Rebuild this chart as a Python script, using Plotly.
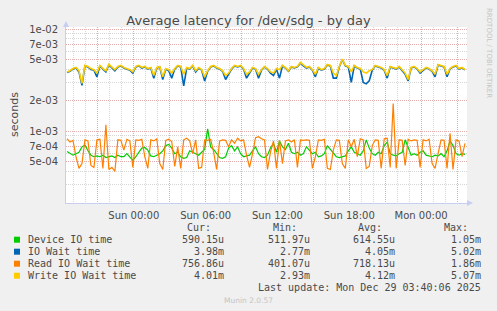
import plotly.graph_objects as go
import pandas as pd
import numpy as np

# ---------------- data (values in microseconds) ----------------
times = pd.date_range("2025-12-27 18:25", periods=134, freq="15min")

device_us = [630, 600, 580, 600, 620, 700, 730, 640, 580, 560,
             570, 560, 580, 550, 560, 570, 550, 580, 560, 560,
             600, 560, 515, 560, 620, 680, 690, 650, 570, 560,
             580, 600, 640, 720, 740, 680, 600, 620, 560, 540,
             550, 640, 620, 600, 580,
             620, 660, 1050, 700, 660, 600, 550, 540, 560, 680,
             720, 640, 700, 600, 560, 570, 580, 640, 700, 600,
             560, 550, 580, 680, 760, 620, 800, 700, 660, 760,
             620, 600, 620, 580, 600, 700, 650, 600, 620, 560,
             570, 600, 720, 660, 620,
             560, 550, 560, 570, 640, 700, 620, 600, 580, 640,
             820, 680, 600, 580, 620, 600, 720, 780, 600, 580,
             570, 600, 620, 820, 700, 580, 600, 580, 620, 640,
             580, 570, 560, 580, 570, 600, 560, 640, 800, 720,
             600, 580, 600, 590]

iowait_us = [3750, 3850, 4050, 4150, 3800, 2800, 4350, 4250, 4000, 3950,
             3400, 4350, 4050, 3800, 4450, 4150, 3900, 4250, 4350, 4150,
             4050, 3950, 3700, 4250, 4350, 4150, 4250, 4050, 4150, 3300,
             4150, 4250, 3200, 4050, 3900, 3300, 4050, 4350, 4250, 2770,
             4150, 4050, 4350, 3800, 4150, 3950, 3100, 3850, 4250, 4350,
             4150, 4050, 3850, 3200, 3600, 4050, 4350, 4250, 4350, 4050,
             3300, 3700, 4150, 4050, 3300, 3950, 4250, 4050,
             3700, 3500, 4050, 3300, 4350, 4150, 3850, 4250, 4150, 4250,
             4650, 4350, 4150, 4250, 3950, 3400, 4150, 3950, 4050, 4450,
             4350, 3300, 3300, 4250, 5020, 4350, 4250, 3000, 4350, 4150,
             4050, 3000, 2900, 3100, 3950, 4350, 4250, 4150, 3950, 3300,
             4250, 4150, 4050, 4250, 3950, 3600, 3100, 4150, 4250, 4050,
             3700, 3950, 4150, 4050, 3850, 3400, 4450, 4350, 4250, 3400,
             4050, 4250, 4350, 4050, 4150, 3980]

read_us = [840, 780, 810, 560, 430, 480, 820, 800, 460, 440,
           820, 830, 430, 1150, 420, 440, 402, 820, 810, 650,
           830, 800, 440, 820, 810, 830, 560, 430, 820, 800,
           840, 480, 420, 810, 830, 790, 450, 700, 430, 820,
           850, 800, 600, 820, 430,
           440, 820, 810, 830, 620, 420, 800, 820, 810, 700,
           820, 760, 850, 800, 820, 580, 440, 600, 860, 880,
           840, 820, 420, 620, 800, 430, 810, 480, 800, 820,
           780, 820, 440, 820, 810, 820, 810, 430, 560, 820,
           810, 830, 430, 420, 650,
           820, 810, 480, 430, 820, 700, 830, 560, 840, 820,
           430, 450, 720, 820, 810, 430, 840, 850, 440, 1860,
           430, 820, 810, 460, 830, 800, 820, 810, 440, 820,
           800, 830, 480, 430, 600, 820, 810, 430, 950, 420,
           820, 800, 560, 757]

write_us = [3800, 3900, 4100, 4200, 3900, 2930, 4400, 4300, 4100, 4000,
            3700, 4400, 4100, 3900, 4500, 4200, 4000, 4300, 4400, 4200,
            4100, 4000, 3800, 4300, 4400, 4200, 4300, 4100, 4200, 3500,
            4200, 4300, 3400, 4100, 4000, 3700, 4100, 4400, 4300, 3600,
            4200, 4100, 4400, 3900, 4200, 4000, 3400, 3900, 4300, 4400,
            4200, 4100, 3900, 3500, 3700, 4100, 4400, 4300, 4400, 4100,
            3600, 3800, 4200, 4100, 3600, 4000, 4300, 4100,
            3800, 3700, 4100, 4000, 4400, 4200, 3900, 4300, 4200, 4300,
            4700, 4400, 4200, 4300, 4000, 3600, 4200, 4000, 4100, 4500,
            4400, 3700, 3500, 4300, 5070, 4400, 4300, 3800, 4400, 4200,
            4100, 3800, 3700, 3900, 4000, 4400, 4300, 4200, 4000, 3500,
            4300, 4200, 4100, 4300, 4000, 3700, 3200, 4200, 4300, 4100,
            3800, 4000, 4200, 4100, 3900, 3600, 4500, 4400, 4300, 3600,
            4100, 4300, 4400, 4100, 4200, 4010]

names = ["Device IO time", "IO Wait time", "Read IO Wait time", "Write IO Wait time"]
colors = ["#00cc00", "#0066b3", "#ff8000", "#ffcc00"]
widths = [1.2, 1.6, 1.2, 1.6]
series = [device_us, iowait_us, read_us, write_us]
cur_txt = ["590.15u", "3.98m", "756.86u", "4.01m"]
min_txt = ["511.97u", "2.77m", "401.07u", "2.93m"]
avg_txt = ["614.55u", "4.05m", "718.13u", "4.12m"]
max_txt = ["1.05m", "5.02m", "1.86m", "5.07m"]

y_major = [5e-4, 7e-4, 1e-3, 2e-3, 5e-3, 7e-3, 1e-2]
y_major_txt = ["5e-04", "7e-04", "1e-03", "2e-03", "5e-03", "7e-03", "1e-02"]
y_minor = [2e-4, 3e-4, 4e-4, 6e-4, 8e-4, 9e-4, 3e-3, 4e-3, 6e-3, 8e-3, 9e-3]

x_major = pd.date_range("2025-12-27 21:00", "2025-12-29 03:00", freq="3h")
x_major_txt = ["", "Sun 00:00", "", "Sun 06:00", "", "Sun 12:00", "",
               "Sun 18:00", "", "Mon 00:00", ""]
x_minor = pd.date_range("2025-12-27 19:00", "2025-12-29 03:00", freq="1h")

# ---------------- layout geometry ----------------
W, H = 497, 311
L, R, T, B = 66, 467, 27, 203


def px(x):
    return (x - L) / (R - L)


def py(y):
    return (B - y) / (B - T)


TXT = "#4a4a4a"
MGRID = "#e3adad"
GRID = "#d6d6d6"
AXIS = "#c8cdf2"

fig = go.Figure()
for n, c, w, s in zip(names, colors, widths, series):
    fig.add_trace(go.Scatter(x=times, y=np.array(s) * 1e-6, mode="lines",
                             name=n, line=dict(color=c, width=w),
                             showlegend=False, hoverinfo="skip"))

fig.update_layout(
    width=W, height=H,
    margin=dict(l=L, r=W - R, t=T, b=H - B, pad=0),
    paper_bgcolor="#f0f0f0", plot_bgcolor="#ffffff",
    font=dict(family="DejaVu Sans", size=10, color=TXT),
    title=dict(text="Average latency for /dev/sdg - by day",
               x=0.5, xref="container", xanchor="center",
               y=1 - 20 / H, yref="container", yanchor="middle",
               font=dict(size=13, color=TXT, family="DejaVu Sans")),
    xaxis=dict(type="date",
               range=["2025-12-27 18:20", "2025-12-29 03:50"],
               tickvals=list(x_major), ticktext=x_major_txt,
               showgrid=True, gridcolor=MGRID, griddash="1px,1px", gridwidth=1,
               minor=dict(tickvals=list(x_minor), showgrid=True,
                          gridcolor=GRID, griddash="1px,1px", gridwidth=1, ticks=""),
               ticks="", ticklabelstandoff=3,
               showline=True, linecolor=AXIS, linewidth=1,
               zeroline=False, tickfont=dict(size=10, color=TXT)),
    yaxis=dict(type="log",
               range=[-3.7055, -1.980],
               tickvals=y_major, ticktext=y_major_txt,
               showgrid=True, gridcolor=MGRID, griddash="1px,1px", gridwidth=1,
               minor=dict(tickvals=y_minor, showgrid=True,
                          gridcolor=GRID, griddash="1px,1px", gridwidth=1, ticks=""),
               ticks="", ticklabelstandoff=5,
               showline=True, linecolor=AXIS, linewidth=1,
               zeroline=False, tickfont=dict(size=10, color=TXT)),
)

# axis arrows
fig.add_shape(type="path", xref="paper", yref="paper",
              path=f"M {px(63)} {py(27)} L {px(69)} {py(27)} L {px(66)} {py(21)} Z",
              fillcolor=AXIS, line=dict(width=0))
fig.add_shape(type="path", xref="paper", yref="paper",
              path=f"M {px(467)} {py(200)} L {px(467)} {py(206)} L {px(473)} {py(203)} Z",
              fillcolor=AXIS, line=dict(width=0))

ann = []
# y axis title
ann.append(dict(text="seconds", x=px(14), y=py(115), xref="paper", yref="paper",
                showarrow=False, textangle=-90, font=dict(size=11, color=TXT),
                xanchor="center", yanchor="middle"))
# right side credit
ann.append(dict(text="RRDTOOL / TOBI OETIKER", x=px(489), y=py(53), xref="paper",
                yref="paper", showarrow=False, textangle=90,
                font=dict(size=7, color="#c4c4c4"), xanchor="center", yanchor="middle"))

MONO = dict(family="DejaVu Sans Mono", size=10, color=TXT)
# headers
for lbl, xr in zip(["Cur:", "Min:", "Avg:", "Max:"], [213, 299, 384, 470]):
    ann.append(dict(text=lbl, x=px(xr), y=py(227.5), xref="paper", yref="paper",
                    showarrow=False, xanchor="right", yanchor="middle", font=MONO))
rows_y = [239.7, 251.7, 263.7, 275.7]
for i, (n, c) in enumerate(zip(names, colors)):
    yc = rows_y[i]
    fig.add_shape(type="rect", xref="paper", yref="paper",
                  x0=px(14), x1=px(20), y0=py(yc + 3), y1=py(yc - 3),
                  fillcolor=c, line=dict(width=0))
    ann.append(dict(text=n, x=px(26), y=py(yc), xref="paper", yref="paper",
                    showarrow=False, xanchor="left", yanchor="middle", font=MONO))
    for v, xr in zip([cur_txt[i], min_txt[i], avg_txt[i], max_txt[i]],
                     [226, 312, 396.7, 482.7]):
        ann.append(dict(text=v, x=px(xr), y=py(yc), xref="paper", yref="paper",
                        showarrow=False, xanchor="right", yanchor="middle", font=MONO))
ann.append(dict(text="Last update: Mon Dec 29 03:40:06 2025", x=px(482.7), y=py(287.7),
                xref="paper", yref="paper", showarrow=False, xanchor="right",
                yanchor="middle", font=MONO))
ann.append(dict(text="Munin 2.0.57", x=px(248), y=py(300.5), xref="paper", yref="paper",
                showarrow=False, xanchor="center", yanchor="middle",
                font=dict(family="DejaVu Sans", size=7.5, color="#c4c4c4")))
fig.update_layout(annotations=ann)

fig.write_html("out.html")
